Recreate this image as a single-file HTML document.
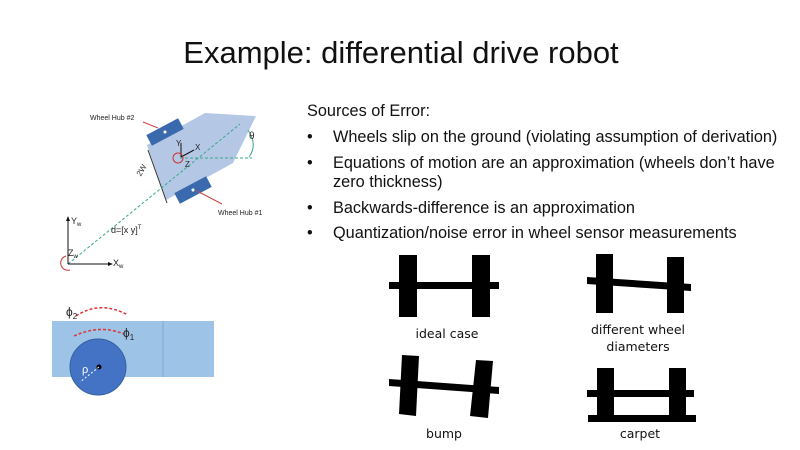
<!DOCTYPE html>
<html><head><meta charset="utf-8"><style>
body{margin:0;width:800px;height:450px;background:#fff;overflow:hidden;font-family:"Liberation Sans",sans-serif}
svg{position:absolute;left:0;top:0}
</style></head><body>
<svg width="800" height="450" viewBox="0 0 800 450" font-family="Liberation Sans, sans-serif">
<text x="401" y="63" font-size="31" text-anchor="middle" fill="#111">Example: differential drive robot</text>
<g font-size="16.3" fill="#111">
<text x="307" y="116">Sources of Error:</text>
<text x="307" y="142">•</text><text x="333" y="142">Wheels slip on the ground (violating assumption of derivation)</text>
<text x="307" y="168">•</text><text x="333" y="168">Equations of motion are an approximation (wheels don’t have</text>
<text x="333" y="187">zero thickness)</text>
<text x="307" y="213">•</text><text x="333" y="213">Backwards-difference is an approximation</text>
<text x="307" y="238">•</text><text x="333" y="238">Quantization/noise error in wheel sensor measurements</text>
</g>
<!-- robot -->
<polygon points="147,145 205,113 256,116 233,163 166,200" fill="#b4c8e6"/>
<g transform="translate(165,132) rotate(-28)"><rect x="-18" y="-6" width="36" height="12" fill="#3a6aad"/><circle r="1.5" fill="#fff"/></g>
<g transform="translate(193,190) rotate(-28)"><rect x="-18" y="-6" width="36" height="12" fill="#3a6aad"/><circle r="1.5" fill="#fff"/></g>
<line x1="148" y1="150" x2="167" y2="203" stroke="#333" stroke-width="1"/>
<text x="138" y="176" font-size="8" fill="#333" transform="rotate(-60 140 174)">2W</text>
<line x1="68" y1="264" x2="240" y2="124" stroke="#3aa88a" stroke-width="1" stroke-dasharray="3,2"/>
<line x1="180" y1="158" x2="252" y2="158" stroke="#3aa88a" stroke-width="1" stroke-dasharray="3,2"/>
<path d="M248,130 Q258,145 249,157" fill="none" stroke="#3aa88a"/>
<text x="249" y="139" font-size="10" fill="#333">θ</text>
<line x1="181" y1="157" x2="181" y2="143" stroke="#111"/><line x1="181" y1="157" x2="194" y2="150" stroke="#111"/>
<circle cx="178" cy="158" r="5" fill="none" stroke="#c33"/>
<text x="176" y="146" font-size="8" fill="#222">Y</text><text x="195" y="150" font-size="8" fill="#222">X</text><text x="185" y="167" font-size="8" fill="#222">Z</text>
<text x="90" y="120" font-size="7" fill="#222">Wheel Hub #2</text>
<line x1="143" y1="122" x2="158" y2="128" stroke="#c44"/>
<text x="218" y="215" font-size="7" fill="#222">Wheel Hub #1</text>
<line x1="197" y1="191" x2="222" y2="204" stroke="#c44"/>
<line x1="68" y1="264" x2="68" y2="219" stroke="#111"/><polygon points="68,216 66,221 70,221" fill="#111"/>
<line x1="68" y1="264" x2="110" y2="264" stroke="#111"/><polygon points="113,264 108,262 108,266" fill="#111"/>
<text x="71" y="224" font-size="9" fill="#222">Y<tspan font-size="6" dy="2">w</tspan></text>
<text x="113" y="266" font-size="9" fill="#222">X<tspan font-size="6" dy="2">w</tspan></text>
<text x="68" y="256" font-size="9" fill="#222">Z<tspan font-size="6" dy="2">w</tspan></text>
<path d="M66,256 A7,7 0 1 0 70,270" fill="none" stroke="#c33"/>
<text x="111" y="233" font-size="9" fill="#222">d=[x y]<tspan font-size="6" dy="-4">T</tspan></text>
<!-- wheel fig -->
<rect x="52" y="321" width="162" height="56" fill="#9dc3e6"/>
<line x1="163" y1="321" x2="163" y2="377" stroke="#7fa8d0"/>
<circle cx="98" cy="367" r="28" fill="#4472c4" stroke="#35609f"/>
<circle cx="99" cy="367" r="2.5" fill="#000"/>
<line x1="99" y1="367" x2="80" y2="382" stroke="#fff" stroke-dasharray="2,2"/>
<text x="82" y="373" font-size="11" fill="#fff">ρ</text>
<path d="M76,316 Q100,300 128,315" fill="none" stroke="#d33" stroke-width="1.5" stroke-dasharray="3,2"/>
<path d="M74,336 Q100,324 124,334" fill="none" stroke="#d33" stroke-width="1.5" stroke-dasharray="3,2"/>
<text x="66" y="316" font-size="12" fill="#222">ϕ<tspan font-size="8" dy="3">2</tspan></text>
<text x="123" y="337" font-size="12" fill="#222">ϕ<tspan font-size="8" dy="3">1</tspan></text>
<!-- axles -->
<g fill="#000">
<rect x="399" y="255" width="18" height="62"/><rect x="472" y="255" width="18" height="62"/><rect x="389" y="282" width="110" height="7"/>
<rect x="596" y="254" width="17" height="59"/><rect x="667" y="257" width="17" height="56"/><polygon points="587,277 691,284 691,291 587,284"/>
<polygon points="402,355 419,356 416,416 399,414"/><polygon points="476,360 493,361 488,418 470,416"/><polygon points="389,379 499,387 499,394 389,386"/>
<rect x="597" y="368" width="17" height="50"/><rect x="669" y="368" width="17" height="50"/><rect x="587" y="390" width="107" height="7"/><rect x="588" y="415" width="108" height="7"/>
</g>
<g font-size="12.5" fill="#111" text-anchor="middle" font-family="DejaVu Sans, sans-serif">
<text x="447" y="338">ideal case</text>
<text x="638" y="334">different wheel</text>
<text x="638" y="351">diameters</text>
<text x="444" y="438">bump</text>
<text x="640" y="438">carpet</text>
</g>
</svg>
</body></html>
